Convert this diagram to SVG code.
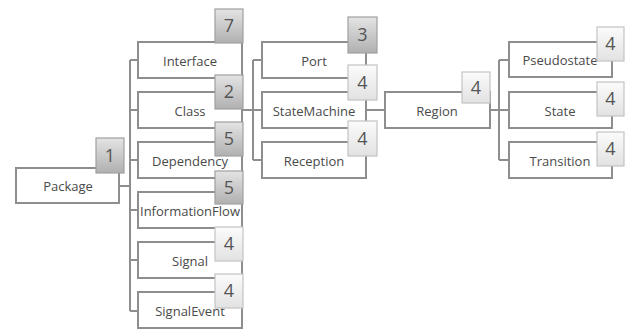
<svg xmlns="http://www.w3.org/2000/svg" width="628" height="329" viewBox="0 0 628 329">
  <defs>
    <linearGradient id="badgeDark" x1="0" y1="0" x2="0" y2="1">
      <stop offset="0" stop-color="#e4e4e4"/>
      <stop offset="1" stop-color="#b0b0b0"/>
    </linearGradient>
    <linearGradient id="badgeLight" x1="0" y1="0" x2="0" y2="1">
      <stop offset="0" stop-color="#fbfbfb"/>
      <stop offset="1" stop-color="#e2e2e2"/>
    </linearGradient>
    <style>
      .box { fill: #ffffff; stroke: #8e8e8e; stroke-width: 2; }
      .lbl { font-family: "Open Sans", "Liberation Sans", sans-serif; font-size: 13px; fill: #4a4a4a; text-anchor: middle; }
      .bd { fill: url(#badgeDark); stroke: #a0a0a0; stroke-width: 1.2; }
      .bl { fill: url(#badgeLight); stroke: #c4c4c4; stroke-width: 1.2; }
      .num { font-family: "Open Sans", "Liberation Sans", sans-serif; font-size: 18px; fill: #555555; text-anchor: middle; }
      .wire { fill: none; stroke: #8e8e8e; stroke-width: 2; }
    </style>
  </defs>
  <rect width="628" height="329" fill="#ffffff"/>

  <!-- connectors -->
  <g id="connectors">
    <path class="wire" d="M119 186 H130 M130 60 V311 M130 60 H138 M130 110 H138 M130 160 H138 M130 210 H138 M130 260 H138 M130 311 H138"/>
    <path class="wire" d="M242 110 H253 M253 60 V160 M253 60 H262 M253 110 H262 M253 160 H262"/>
    <path class="wire" d="M366 110 H385"/>
    <path class="wire" d="M490 110 H499 M499 60 V160 M499 60 H509 M499 110 H509 M499 160 H509"/>
  </g>

  <!-- root -->
  <g id="package">
    <rect class="box" x="16" y="168" width="103" height="35"/>
    <text class="lbl" x="68" y="191">Package</text>
    <rect class="bd" x="96" y="138" width="28" height="35"/>
    <text class="num" x="110" y="162">1</text>
  </g>

  <!-- first level -->
  <g id="interface">
    <rect class="box" x="138" y="42" width="104" height="36"/>
    <text class="lbl" x="190" y="66">Interface</text>
    <rect class="bd" x="215" y="9" width="28" height="34"/>
    <text class="num" x="229" y="32">7</text>
  </g>
  <g id="class">
    <rect class="box" x="138" y="92" width="104" height="36"/>
    <text class="lbl" x="190" y="116">Class</text>
    <rect class="bd" x="215" y="75" width="28" height="34"/>
    <text class="num" x="229" y="98">2</text>
  </g>
  <g id="dependency">
    <rect class="box" x="138" y="142" width="104" height="36"/>
    <text class="lbl" x="190" y="166">Dependency</text>
    <rect class="bd" x="215" y="122" width="28" height="34"/>
    <text class="num" x="229" y="145">5</text>
  </g>
  <g id="informationflow">
    <rect class="box" x="138" y="192" width="104" height="36"/>
    <text class="lbl" x="190" y="216">InformationFlow</text>
    <rect class="bd" x="215" y="171" width="28" height="33"/>
    <text class="num" x="229" y="194">5</text>
  </g>
  <g id="signal">
    <rect class="box" x="138" y="242" width="104" height="36"/>
    <text class="lbl" x="190" y="266">Signal</text>
    <rect class="bl" x="215" y="227" width="28" height="34"/>
    <text class="num" x="229" y="250">4</text>
  </g>
  <g id="signalevent">
    <rect class="box" x="138" y="292" width="104" height="36"/>
    <text class="lbl" x="190" y="316">SignalEvent</text>
    <rect class="bl" x="215" y="274" width="28" height="34"/>
    <text class="num" x="229" y="297">4</text>
  </g>

  <!-- second level -->
  <g id="port">
    <rect class="box" x="262" y="42" width="104" height="36"/>
    <text class="lbl" x="314" y="66">Port</text>
    <rect class="bd" x="348" y="17" width="29" height="36"/>
    <text class="num" x="362.5" y="41">3</text>
  </g>
  <g id="statemachine">
    <rect class="box" x="262" y="92" width="104" height="36"/>
    <text class="lbl" x="314" y="116">StateMachine</text>
    <rect class="bl" x="348" y="65" width="29" height="35"/>
    <text class="num" x="362.5" y="89">4</text>
  </g>
  <g id="reception">
    <rect class="box" x="262" y="142" width="104" height="36"/>
    <text class="lbl" x="314" y="166">Reception</text>
    <rect class="bl" x="348" y="121" width="29" height="35"/>
    <text class="num" x="362.5" y="145">4</text>
  </g>

  <!-- third level -->
  <g id="region">
    <rect class="box" x="385" y="92" width="105" height="36"/>
    <text class="lbl" x="437" y="116">Region</text>
    <rect class="bl" x="462" y="72" width="28" height="31"/>
    <text class="num" x="476" y="94">4</text>
  </g>

  <!-- fourth level -->
  <g id="pseudostate">
    <rect class="box" x="509" y="42" width="103" height="35"/>
    <text class="lbl" x="560" y="65">Pseudostate</text>
    <rect class="bl" x="597" y="27" width="27" height="34"/>
    <text class="num" x="610.5" y="50">4</text>
  </g>
  <g id="state">
    <rect class="box" x="509" y="92" width="103" height="36"/>
    <text class="lbl" x="560" y="116">State</text>
    <rect class="bl" x="597" y="82" width="27" height="34"/>
    <text class="num" x="610.5" y="105">4</text>
  </g>
  <g id="transition">
    <rect class="box" x="509" y="142" width="103" height="36"/>
    <text class="lbl" x="560" y="166">Transition</text>
    <rect class="bl" x="597" y="132" width="27" height="34"/>
    <text class="num" x="610.5" y="155">4</text>
  </g>
</svg>
